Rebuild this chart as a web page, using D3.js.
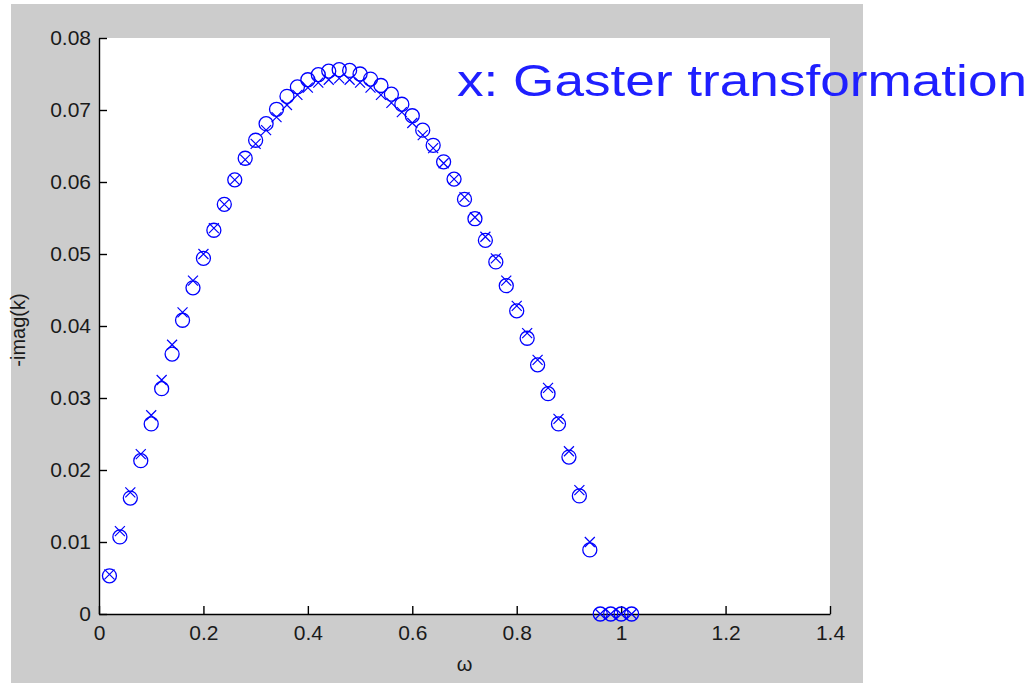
<!DOCTYPE html>
<html>
<head>
<meta charset="utf-8">
<script src="https://cdn.jsdelivr.net/npm/d3@7"></script>
<style>
  html, body { margin: 0; padding: 0; background: #ffffff; }
  svg { display: block; }
</style>
</head>
<body>
<svg id="chart" width="1032" height="683"></svg>
<script>
// ---- data ----
const omega = [0.02,0.04,0.06,0.08,0.10,0.12,0.14,0.16,0.18,0.20,
               0.22,0.24,0.26,0.28,0.30,0.32,0.34,0.36,0.38,0.40,
               0.42,0.44,0.46,0.48,0.50,0.52,0.54,0.56,0.58,0.60,
               0.62,0.64,0.66,0.68,0.70,0.72,0.74,0.76,0.78,0.80,
               0.82,0.84,0.86,0.88,0.90,0.92,0.94,0.96,0.98,1.00,1.02];
const circleVals = [0.0053,0.0107,0.0161,0.0213,0.0264,0.0313,0.0361,0.0408,0.0453,0.0494,
                    0.0533,0.0569,0.0603,0.0633,0.0658,0.0681,0.0701,0.0719,0.0732,0.0742,
                    0.0749,0.0754,0.0756,0.0755,0.0750,0.0743,0.0734,0.0722,0.0708,0.0692,
                    0.0672,0.0651,0.0628,0.0604,0.0576,0.0549,0.0519,0.0489,0.0456,0.0421,
                    0.0383,0.0346,0.0306,0.0264,0.0218,0.0164,0.0089,0,0,0,0];
const crossVals = [0.0055,0.0115,0.0169,0.0222,0.0276,0.0325,0.0374,0.0419,0.0463,0.0500,
                   0.0536,0.0569,0.0603,0.0631,0.0653,0.0672,0.0690,0.0707,0.0721,0.0731,
                   0.0738,0.0742,0.0744,0.0742,0.0738,0.0731,0.0721,0.0710,0.0697,0.0682,
                   0.0665,0.0647,0.0626,0.0604,0.0579,0.0551,0.0524,0.0494,0.0463,0.0428,
                   0.0390,0.0353,0.0314,0.0271,0.0226,0.0172,0.0100,0,0,0,0];
const xTicks = [0,0.2,0.4,0.6,0.8,1.0,1.2,1.4];
const xTickLabels = ["0","0.2","0.4","0.6","0.8","1","1.2","1.4"];
const yTicks = [0,0.01,0.02,0.03,0.04,0.05,0.06,0.07,0.08];
const yTickLabels = ["0","0.01","0.02","0.03","0.04","0.05","0.06","0.07","0.08"];
const xLabel = "\u03C9";
const yLabel = "-imag(k)";
const titleText = "x: Gaster transformation";

// ---- layout ----
const svg = d3.select("#chart");
const font = "Arial, 'Liberation Sans', sans-serif";
const plot = {left: 99, right: 830, top: 38, bottom: 614};

svg.append("rect").attr("x", 11).attr("y", 4).attr("width", 852).attr("height", 679).attr("fill", "#cccccc");
svg.append("rect").attr("x", plot.left).attr("y", plot.top)
  .attr("width", plot.right - plot.left).attr("height", plot.bottom - plot.top).attr("fill", "#ffffff");

const x = d3.scaleLinear().domain([0, 1.4]).range([plot.left, plot.right]);
const y = d3.scaleLinear().domain([0, 0.08]).range([plot.bottom, plot.top]);

const xAxis = d3.axisBottom(x).tickValues(xTicks).tickFormat((d, i) => xTickLabels[i])
  .tickSizeInner(-8).tickSizeOuter(0).tickPadding(11);
const yAxis = d3.axisLeft(y).tickValues(yTicks).tickFormat((d, i) => yTickLabels[i])
  .tickSizeInner(-8).tickSizeOuter(0).tickPadding(8);

const gx = svg.append("g").attr("transform", `translate(0,${plot.bottom})`).call(xAxis);
const gy = svg.append("g").attr("transform", `translate(${plot.left},0)`).call(yAxis);
[gx, gy].forEach(g => {
  g.selectAll("path.domain").attr("stroke", "#000").attr("stroke-width", 1.4);
  g.selectAll(".tick line").attr("stroke", "#000").attr("stroke-width", 1.4);
  g.selectAll(".tick text").attr("fill", "#1a1a1a").style("font-family", font).style("font-size", "21px");
});

// axis labels
svg.append("text").attr("x", (plot.left + plot.right) / 2).attr("y", 671)
  .attr("text-anchor", "middle").attr("fill", "#1a1a1a")
  .style("font-family", font).style("font-size", "20px").text(xLabel);
svg.append("text").attr("transform", `translate(25,${(plot.top + plot.bottom) / 2 + 4}) rotate(-90)`)
  .attr("text-anchor", "middle").attr("fill", "#1a1a1a")
  .style("font-family", font).style("font-size", "20px").text(yLabel);

// markers
const pts = omega.map((w, i) => ({w, c: circleVals[i], x: crossVals[i]}));
const blue = "#0000ff";
svg.append("g").selectAll("circle").data(pts).join("circle")
  .attr("cx", d => x(d.w)).attr("cy", d => y(d.c)).attr("r", 7)
  .attr("fill", "none").attr("stroke", blue).attr("stroke-width", 1.3);
const s = 5;
svg.append("g").selectAll("path").data(pts).join("path")
  .attr("d", d => {
    const cx = x(d.w), cy = y(d.x);
    return `M${cx - s},${cy - s}L${cx + s},${cy + s}M${cx - s},${cy + s}L${cx + s},${cy - s}`;
  })
  .attr("fill", "none").attr("stroke", blue).attr("stroke-width", 1.2);

// title
svg.append("text").attr("x", 457).attr("y", 96)
  .attr("fill", "#1f1fff")
  .attr("textLength", 570).attr("lengthAdjust", "spacingAndGlyphs")
  .style("font-family", font).style("font-size", "44px").text(titleText);
</script>
</body>
</html>
